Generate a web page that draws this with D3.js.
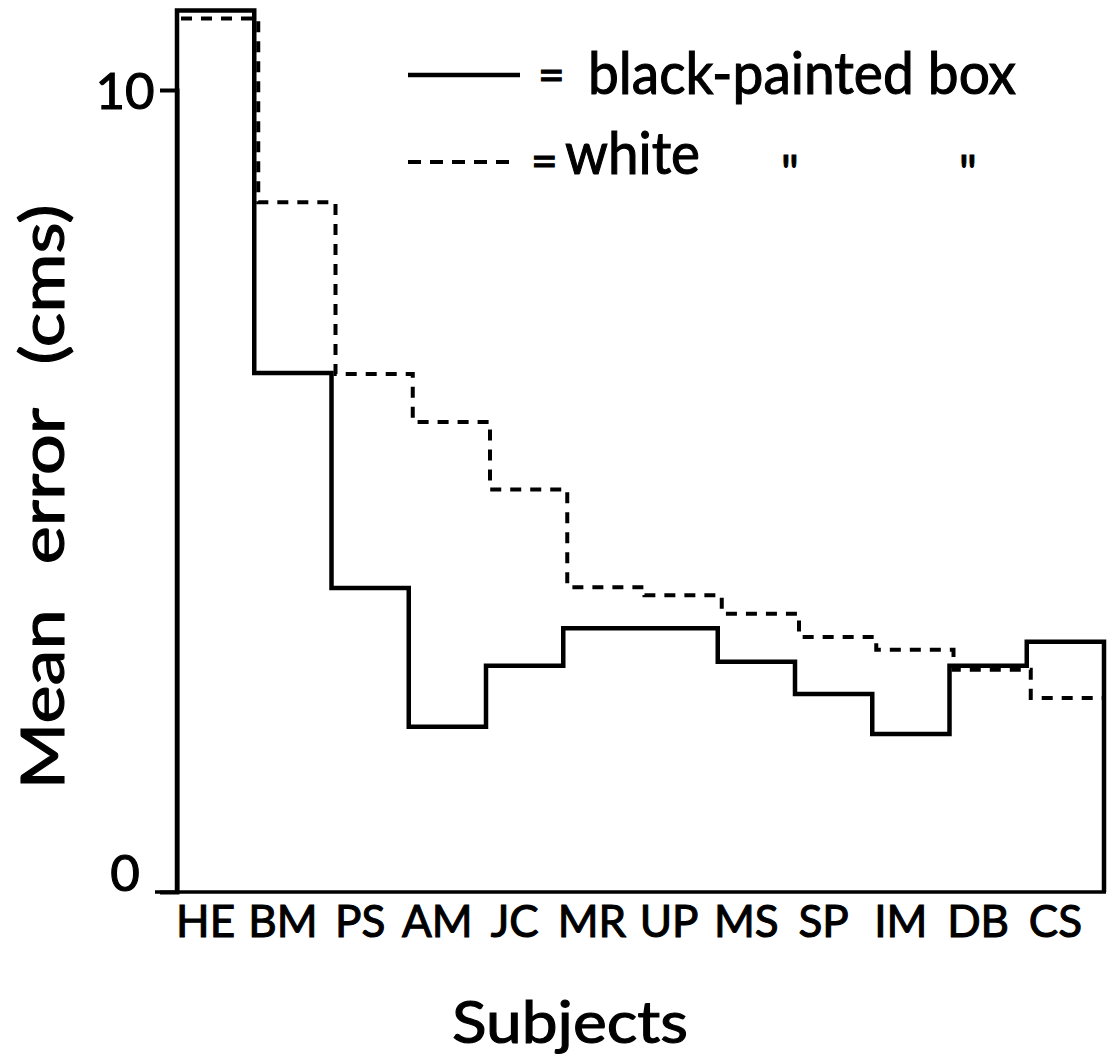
<!DOCTYPE html>
<html>
<head>
<meta charset="utf-8">
<script src="https://cdn.jsdelivr.net/npm/d3@7"></script>
<style>
  html, body { margin: 0; padding: 0; background: #fff; }
  svg { display: block; }
  text { font-family: Lato, "DejaVu Sans", sans-serif; font-weight: 400; fill: #000; stroke: #000; stroke-width: 1.1px; }
</style>
</head>
<body>
<div id="chart"></div>
<script>
// ── Data ──────────────────────────────────────────────────────────────
const subjects = ['HE', 'BM', 'PS', 'AM', 'JC', 'MR', 'UP', 'MS', 'SP', 'IM', 'DB', 'CS'];
const blackBox = [10.99, 6.47, 3.79, 2.06, 2.82, 3.29, 3.29, 2.87, 2.47, 1.97, 2.82, 3.12];
const whiteBox = [10.89, 8.60, 6.46, 5.86, 5.02, 3.80, 3.70, 3.47, 3.18, 3.02, 2.77, 2.42];
const yTicks = [0, 10];
const legendLabels = ['black-painted box', 'white'];

// ── Layout ────────────────────────────────────────────────────────────
const W = 1113, H = 1063;
const X0 = 177, X1 = 1104, Y0 = 892, Y10 = 90;

const svg = d3.select('#chart').append('svg')
  .attr('width', W).attr('height', H);

const x = d3.scaleBand().domain(subjects).range([X0, X1]).paddingInner(0).paddingOuter(0);
const y = d3.scaleLinear().domain([0, 10]).range([Y0, Y10]);

// step path from a series
function stepPoints(vals) {
  const pts = vals.map((v, i) => [x(subjects[i]), y(v)]);
  pts.push([X1, y(vals[vals.length - 1])]);
  return pts;
}
const stepLine = d3.line().curve(d3.curveStepAfter);

// ── Axes ──────────────────────────────────────────────────────────────
// baseline
svg.append('line')
  .attr('x1', 155).attr('x2', X1 + 2)
  .attr('y1', Y0).attr('y2', Y0)
  .attr('stroke', '#000').attr('stroke-width', 3.5);

const yAxis = d3.axisLeft(y).tickValues(yTicks).tickSize(17).tickFormat(d3.format('d'));
const yG = svg.append('g').attr('transform', `translate(${X0},0)`).call(yAxis);
yG.select('.domain').attr('stroke', '#000').attr('stroke-width', 4);
yG.selectAll('.tick line').attr('stroke', '#000').attr('stroke-width', 3)
  .attr('display', d => d === 0 ? 'none' : null);
yG.selectAll('.tick text')
  .attr('x', -52).attr('text-anchor', 'middle')
  .attr('font-size', 51).attr('font-family', 'Lato, sans-serif')
  .attr('fill', '#000')
  .attr('dy', d => d === 0 ? '-0.02em' : '0.36em');

// category labels
svg.append('g').selectAll('text')
  .data(subjects).join('text')
  .attr('x', d => x(d) + x.bandwidth() / 2 - 10)
  .attr('y', 937)
  .attr('text-anchor', 'middle')
  .attr('font-size', 44)
  .text(d => d);

// axis titles
svg.append('text')
  .attr('x', 570).attr('y', 1043)
  .attr('text-anchor', 'middle')
  .attr('font-size', 58)
  .attr('textLength', 236).attr('lengthAdjust', 'spacingAndGlyphs')
  .text('Subjects');

svg.append('text')
  .attr('transform', 'translate(64,497) rotate(-90)')
  .attr('text-anchor', 'middle')
  .attr('font-size', 60)
  .attr('word-spacing', 22)
  .attr('textLength', 585).attr('lengthAdjust', 'spacingAndGlyphs')
  .text('Mean error (cms)');

// ── Series ────────────────────────────────────────────────────────────
const blackPts = stepPoints(blackBox);
svg.append('path')
  .attr('d', stepLine([[X0, Y0], ...blackPts, [X1, Y0]]))
  .attr('fill', 'none').attr('stroke', '#000')
  .attr('stroke-width', 4.5).attr('stroke-linejoin', 'miter');

svg.append('path')
  .attr('transform', 'translate(4,0)')
  .attr('d', stepLine(stepPoints(whiteBox).map((p, i, a) => i === a.length - 1 ? [p[0] - 6, p[1]] : p)))
  .attr('fill', 'none').attr('stroke', '#000')
  .attr('stroke-width', 4).attr('stroke-dasharray', '11,9');

// ── Legend ────────────────────────────────────────────────────────────
const lg = svg.append('g');
lg.append('line').attr('x1', 408).attr('x2', 520).attr('y1', 75).attr('y2', 75)
  .attr('stroke', '#000').attr('stroke-width', 4.5);
lg.append('line').attr('x1', 408).attr('x2', 518).attr('y1', 162).attr('y2', 162)
  .attr('stroke', '#000').attr('stroke-width', 4).attr('stroke-dasharray', '13,9');
lg.append('text').attr('x', 538).attr('y', 91).attr('font-size', 46).text('=');
lg.append('text').attr('x', 531).attr('y', 177).attr('font-size', 46).text('=');
lg.append('text').attr('x', 588).attr('y', 94).attr('font-size', 58)
  .attr('textLength', 428).attr('lengthAdjust', 'spacingAndGlyphs')
  .text(legendLabels[0]);
lg.append('text').attr('x', 565).attr('y', 174).attr('font-size', 58)
  .attr('textLength', 135).attr('lengthAdjust', 'spacingAndGlyphs')
  .text(legendLabels[1]);
// ditto marks
[790, 968].forEach(cx => {
  lg.append('text').attr('x', cx).attr('y', 190).attr('text-anchor', 'middle')
    .attr('font-size', 48).text('"');
});
</script>
</body>
</html>
